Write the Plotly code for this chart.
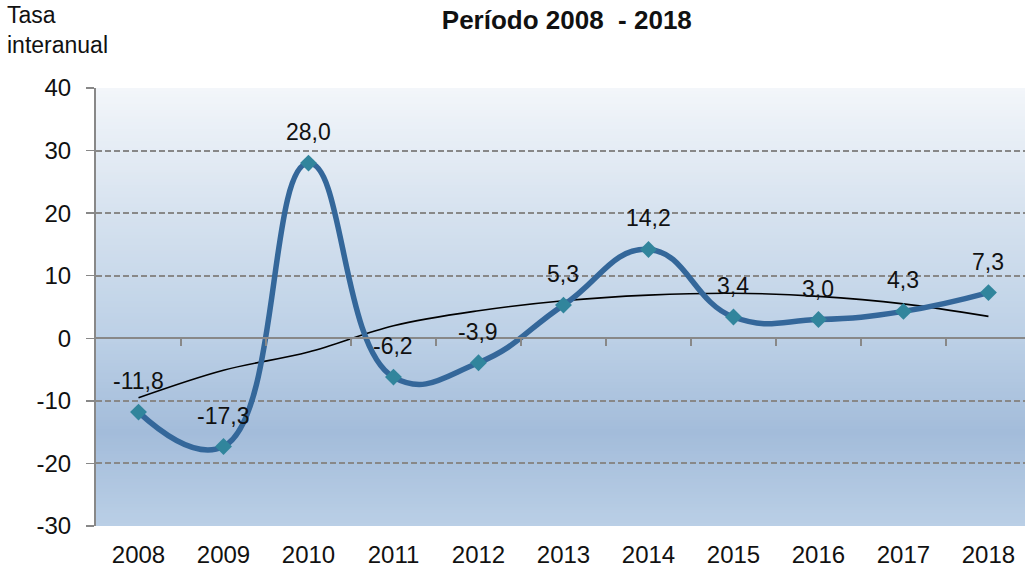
import plotly.graph_objects as go

years = ["2008", "2009", "2010", "2011", "2012", "2013", "2014", "2015", "2016", "2017", "2018"]
tasa = [-11.8, -17.3, 28.0, -6.2, -3.9, 5.3, 14.2, 3.4, 3.0, 4.3, 7.3]
labels = ["-11,8", "-17,3", "28,0", "-6,2", "-3,9", "5,3", "14,2", "3,4", "3,0", "4,3", "7,3"]
# trend line values (polynomial trendline)
tendencia = [-9.5, -5.1, -2.2, 2.0, 4.4, 6.0, 6.9, 7.2, 6.7, 5.5, 3.5]
y_ticks = [40, 30, 20, 10, 0, -10, -20, -30]

FONT = "Liberation Sans"
xs = list(range(len(years)))

fig = go.Figure()

# gradient background stripes
stops = [(40, (243, 246, 250)), (20, (214, 226, 239)), (0, (188, 208, 230)),
         (-15, (163, 188, 218)), (-30, (186, 207, 230))]
def col_at(v):
    for (y1, c1), (y2, c2) in zip(stops[:-1], stops[1:]):
        if y2 <= v <= y1:
            t = (y1 - v) / (y1 - y2)
            return "rgb(%d,%d,%d)" % tuple(round(a + (b - a) * t) for a, b in zip(c1, c2))
    return "rgb(186,207,230)"
n = 140
step = 70 / n
shapes = []
for i in range(n):
    y0 = 40 - i * step
    y1 = max(y0 - step - 0.35, -30)
    shapes.append(dict(type="rect", xref="paper", yref="y", x0=0, x1=1, y0=y1, y1=y0,
                       fillcolor=col_at(y0 - step / 2), line=dict(width=0), layer="below"))

fig.add_trace(go.Scatter(x=xs, y=tendencia, mode="lines", line=dict(color="black", width=1.6, shape="spline"),
                         hoverinfo="skip", showlegend=False))
fig.add_trace(go.Scatter(x=xs, y=tasa, mode="lines+markers",
                         line=dict(color="#34679A", width=5.5, shape="spline", smoothing=1.3),
                         marker=dict(symbol="diamond", size=13, color="#31859C", line=dict(width=0)),
                         showlegend=False))
# secondary axis at y=0 for the crossing tick marks
fig.add_trace(go.Scatter(x=[0], y=[0], xaxis="x2", mode="markers", marker=dict(opacity=0),
                         hoverinfo="skip", showlegend=False))

annotations = [dict(text="Tasa<br>interanual", xref="paper", yref="paper", x=-0.098, y=1.2,
                    xanchor="left", yanchor="top", showarrow=False, align="left",
                    font=dict(family=FONT, size=23, color="#111111"))]
for xv, yv, lab in zip(xs, tasa, labels):
    annotations.append(dict(text=lab, x=xv, y=yv, xref="x", yref="y", showarrow=False,
                            yshift=31, font=dict(family=FONT, size=23, color="#111111")))

fig.update_layout(
    width=1025, height=573,
    margin=dict(l=96, r=0, t=88, b=47),
    paper_bgcolor="white", plot_bgcolor="rgba(0,0,0,0)",
    shapes=shapes,
    font=dict(family=FONT, size=24, color="#111111"),
    title=dict(text="<b>Período 2008  - 2018</b>", x=0.553, xanchor="center", y=0.965, yanchor="middle",
               font=dict(family=FONT, size=26, color="#111111")),
    xaxis=dict(range=[-0.5, 10.43], tickvals=xs, ticktext=years, showgrid=False, zeroline=False,
               showline=False, ticks="", tickfont=dict(size=24), ticklabelstandoff=12),
    xaxis2=dict(overlaying="x", anchor="free", position=30 / 70, range=[-0.5, 10.43],
                tickvals=[i + 0.5 for i in range(10)], ticks="outside", ticklen=7, tickwidth=2,
                tickcolor="#888888", showticklabels=False, showline=True, linecolor="#888888",
                linewidth=2, showgrid=False, zeroline=False),
    yaxis=dict(range=[-30, 40], tickvals=y_ticks, ticktext=[str(v) for v in y_ticks],
               showgrid=True, gridcolor="#888888", griddash="6px,3px", gridwidth=2,
               zeroline=False, showline=True, linecolor="#888888", linewidth=2,
               ticks="outside", ticklen=8, tickcolor="#888888", tickwidth=1.5,
               tickfont=dict(size=24), ticklabelstandoff=10),
    annotations=annotations,
)

fig.write_html("out.html", config={"displayModeBar": False, "staticPlot": True})
with open("out.html", encoding="utf-8") as f:
    html = f.read()
html = html.replace("<head>", "<head><style>html,body{margin:0;padding:0;overflow:hidden;}</style>", 1)
with open("out.html", "w", encoding="utf-8") as f:
    f.write(html)
